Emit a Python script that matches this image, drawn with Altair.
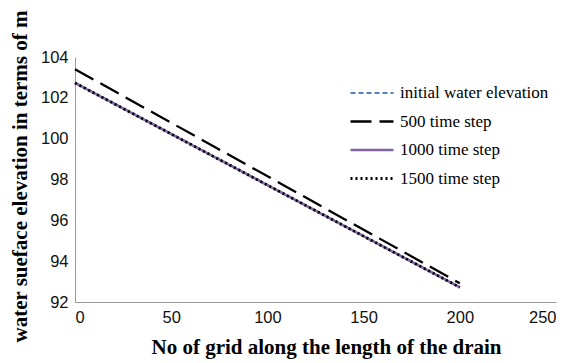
import altair as alt
import pandas as pd

# ---- data ----
x_grid = [0, 200]
initial_elev = [102.75, 92.72]
step500_elev = [103.40, 92.92]
step1000_elev = [102.73, 92.72]
step1500_elev = [102.73, 92.72]

series_names = ["initial water elevation", "500 time step", "1000 time step", "1500 time step"]
series_values = [initial_elev, step500_elev, step1000_elev, step1500_elev]

x_ticks = [0, 50, 100, 150, 200, 250]
y_ticks = [92, 94, 96, 98, 100, 102, 104]

rows = []
for name, vals in zip(series_names, series_values):
    for xv, yv in zip(x_grid, vals):
        rows.append({"grid": xv, "elev": yv, "series": name})
df = pd.DataFrame(rows)

colors = ["#4F81BD", "#000000", "#8064A2", "#000000"]
dashes = [[5, 3], [21, 8], [1, 0], [2, 3]]
widths = [2, 2.8, 2.2, 2]

legend = alt.Legend(
    title=None,
    orient="none",
    legendX=274,
    legendY=23,
    symbolType="stroke",
    symbolSize=1849,
    clipHeight=26,
    rowPadding=2.5,
    labelFont="Liberation Serif",
    labelFontSize=17,
    labelColor="#000000",
    labelOffset=5,
    padding=0,
)

chart = (
    alt.Chart(df)
    .mark_line()
    .encode(
        x=alt.X(
            "grid:Q",
            scale=alt.Scale(domain=[0, 250], nice=False),
            axis=alt.Axis(
                values=x_ticks,
                title="No of grid along the length of the drain",
                grid=False,
                ticks=False,
                labelPadding=7,
                titleX=251,
                titleY=34,
            ),
        ),
        y=alt.Y(
            "elev:Q",
            scale=alt.Scale(domain=[92, 104], nice=False, zero=False),
            axis=alt.Axis(
                values=y_ticks,
                title="water sueface elevation in terms of m",
                grid=False,
                ticks=False,
                labelPadding=7,
                titleX=-45,
                titleY=119,
            ),
        ),
        color=alt.Color(
            "series:N",
            sort=series_names,
            scale=alt.Scale(domain=series_names, range=colors),
            legend=legend,
        ),
        strokeDash=alt.StrokeDash(
            "series:N",
            sort=series_names,
            scale=alt.Scale(domain=series_names, range=dashes),
            legend=legend,
        ),
        strokeWidth=alt.StrokeWidth(
            "series:N",
            sort=series_names,
            scale=alt.Scale(domain=series_names, range=widths),
            legend=legend,
        ),
    )
    .properties(
        width=481,
        height=245,
        autosize=alt.AutoSizeParams(type="none"),
        padding={"left": 67, "top": 49, "right": 16, "bottom": 62},
    )
    .configure_view(stroke=None)
    .configure_axis(
        domainColor="#9a9a9a",
        domainWidth=1,
        labelFont="Liberation Sans",
        labelFontSize=16.5,
        labelColor="#111111",
        titleFont="Liberation Serif",
        titleFontSize=21,
        titleFontWeight="bold",
        titleColor="#000000",
    )
)

chart.save("out.html", embed_options={"renderer": "svg", "actions": False})
